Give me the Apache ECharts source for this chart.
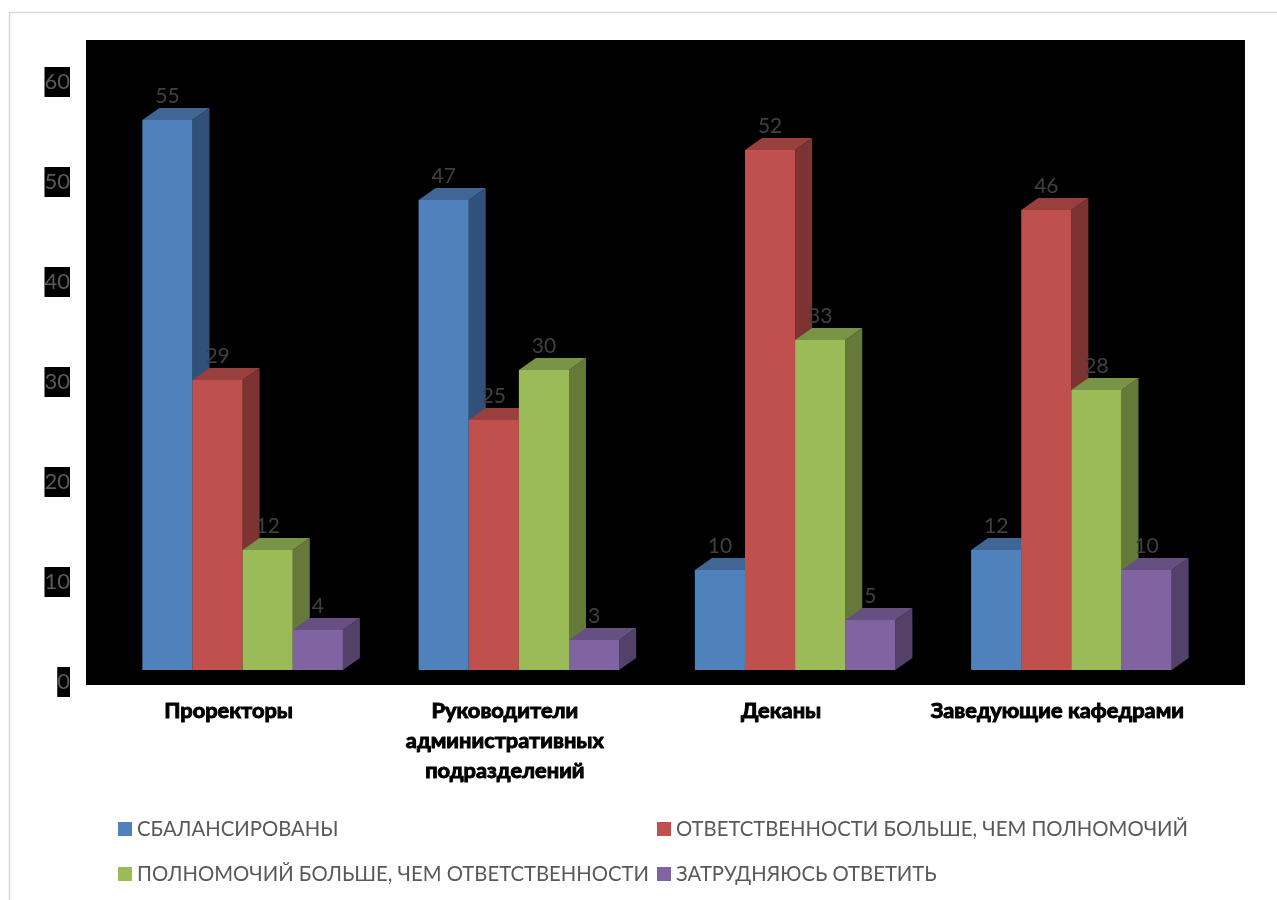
<!DOCTYPE html>
<html><head><meta charset="utf-8">
<style>html,body{margin:0;padding:0;background:#fff}#c{width:1277px;height:900px}</style>
<script src="https://cdn.jsdelivr.net/npm/echarts@6/dist/echarts.min.js"></script>
</head><body><div id="c"></div>
<script>
const categories = ['Проректоры', 'Руководители\nадминистративных\nподразделений', 'Деканы', 'Заведующие кафедрами'];
const balanced = [55, 47, 10, 12];
const moreResponsibility = [29, 25, 52, 46];
const moreAuthority = [12, 30, 33, 28];
const hardToSay = [4, 3, 5, 10];
const seriesNames = ['СБАЛАНСИРОВАНЫ', 'ОТВЕТСТВЕННОСТИ БОЛЬШЕ, ЧЕМ ПОЛНОМОЧИЙ', 'ПОЛНОМОЧИЙ БОЛЬШЕ, ЧЕМ ОТВЕТСТВЕННОСТИ', 'ЗАТРУДНЯЮСЬ ОТВЕТИТЬ'];
const yTicks = [0, 10, 20, 30, 40, 50, 60];

const colors = ['#4F81BD', '#C0504D', '#9BBB59', '#8064A2'];
const topColors = ['#3F6694', '#993F3D', '#7A9447', '#655081'];
const sideColors = ['#31507A', '#7C3331', '#657A3A', '#534169'];
const BAR_FRAC = 0.1815, DX = 17, DY = 12;
const FONT = 'Lato, Carlito, sans-serif';

function render3d(params, api) {
  const idx = params.seriesIndex;
  const cat = api.value(0), val = api.value(1);
  const top = api.coord([cat, val]);
  const base = api.coord([cat, 0]);
  const w = api.size([1, 0])[0] * BAR_FRAC;
  const x0 = top[0] - 2 * w + idx * w, x1 = x0 + w;
  const y0 = top[1], y1 = base[1];
  return { type: 'group', children: [
    { type: 'polygon', shape: { points: [[x1, y0], [x1 + DX, y0 - DY], [x1 + DX, y1 - DY], [x1, y1]] }, style: { fill: sideColors[idx] } },
    { type: 'polygon', shape: { points: [[x0, y0], [x0 + DX, y0 - DY], [x1 + DX, y0 - DY], [x1, y0]] }, style: { fill: topColors[idx] } },
    { type: 'rect', shape: { x: x0, y: y0, width: w, height: y1 - y0 }, style: { fill: colors[idx] } },
    { type: 'text', x: (x0 + x1) / 2, y: y0 - 24, style: { text: String(val), fill: '#404040', font: '21px ' + FONT, align: 'center', verticalAlign: 'middle' } }
  ]};
}

const values = [balanced, moreResponsibility, moreAuthority, hardToSay];
const option = {
  animation: false,
  backgroundColor: '#fff',
  graphic: [
    { type: 'rect', z: 0, silent: true, shape: { x: 9.5, y: 12.5, width: 1300, height: 900 }, style: { fill: '#fff', stroke: '#D9D9D9', lineWidth: 1.5 } },
    { type: 'rect', z: 0, silent: true, shape: { x: 86, y: 40, width: 1159, height: 645 }, style: { fill: '#000' } }
  ],
  grid: [
    { left: 104.5, top: 70, width: 1105, height: 600 },
    { left: 90.5, top: 82, width: 1105, height: 600 }
  ],
  xAxis: [
    { type: 'category', gridIndex: 0, data: categories, show: false },
    { type: 'category', gridIndex: 1, data: categories, axisLine: { show: false }, axisTick: { show: false },
      axisLabel: { interval: 0, margin: 14, color: '#000', fontFamily: FONT, fontWeight: 'bold', fontSize: 21.8, lineHeight: 30, textBorderColor: '#000', textBorderWidth: 1 } }
  ],
  yAxis: [
    { type: 'value', gridIndex: 0, min: 0, max: 60, interval: 10, show: false },
    { type: 'value', gridIndex: 1, min: yTicks[0], max: yTicks[yTicks.length - 1], interval: 10, axisLine: { show: false }, axisTick: { show: false }, splitLine: { show: false },
      axisLabel: { margin: 20.5, color: '#595959', fontFamily: FONT, fontSize: 22, backgroundColor: '#000', padding: [4, 0, 4, 0] } }
  ],
  legend: [
    { left: 118, top: 819, orient: 'vertical', padding: 0, itemWidth: 14, itemHeight: 14, itemGap: 25, icon: 'rect', data: [seriesNames[0], seriesNames[2]], textStyle: { color: '#595959', fontFamily: FONT, fontSize: 20.3 } },
    { left: 657, top: 819, orient: 'vertical', padding: 0, itemWidth: 14, itemHeight: 14, itemGap: 25, icon: 'rect', data: [seriesNames[1], seriesNames[3]], textStyle: { color: '#595959', fontFamily: FONT, fontSize: 20.3 } }
  ],
  series: seriesNames.map((name, i) => ({
    name, type: 'custom', xAxisIndex: 0, yAxisIndex: 0, z: 3,
    renderItem: render3d, itemStyle: { color: colors[i] }, clip: false,
    encode: { x: 0, y: 1 }, data: values[i].map((v, c) => [c, v])
  }))
};
echarts.init(document.getElementById('c'), null, { renderer: 'canvas' }).setOption(option);
</script></body></html>
